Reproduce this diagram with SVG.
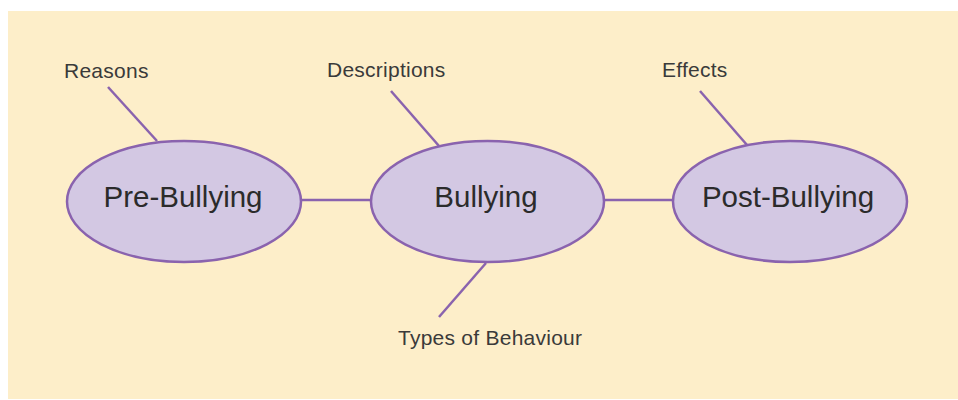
<svg xmlns="http://www.w3.org/2000/svg" width="958" height="400" viewBox="0 0 958 400">
<style>
.bg{fill:#FDEEC9}
.node ellipse{fill:#D3C8E3;stroke:#8A63AE;stroke-width:2.5}
.edges line{stroke:#8A63AE;stroke-width:2.5}
.big{font-family:"Liberation Sans",Arial,sans-serif;font-size:29.5px;fill:#2B2B2B;text-anchor:middle}
.small{font-family:"Liberation Sans",Arial,sans-serif;font-size:21px;letter-spacing:0.25px;fill:#3A3A3A}
</style>
<rect class="bg" x="8" y="11" width="950" height="388"/>
<g class="edges">
<line x1="301" y1="200" x2="371" y2="200"/>
<line x1="604" y1="200" x2="673" y2="200"/>
<line x1="108" y1="87" x2="157" y2="141"/>
<line x1="391" y1="91" x2="439" y2="146"/>
<line x1="700" y1="91" x2="747" y2="145"/>
<line x1="486" y1="263" x2="439" y2="317"/>
</g>
<g id="pre-bullying" class="node">
<ellipse cx="184" cy="201.5" rx="117" ry="60.5"/>
<text class="big" x="183" y="207">Pre-Bullying</text>
</g>
<g id="bullying" class="node">
<ellipse cx="487.5" cy="201.5" rx="116.5" ry="60.5"/>
<text class="big" x="486" y="207">Bullying</text>
</g>
<g id="post-bullying" class="node">
<ellipse cx="790" cy="201.5" rx="117" ry="60.5"/>
<text class="big" x="788" y="207">Post-Bullying</text>
</g>
<g id="reasons"><text class="small" x="64" y="78">Reasons</text></g>
<g id="descriptions"><text class="small" x="327" y="77">Descriptions</text></g>
<g id="effects"><text class="small" x="662" y="77">Effects</text></g>
<g id="types-of-behaviour"><text class="small" x="398" y="345">Types of Behaviour</text></g>
</svg>
